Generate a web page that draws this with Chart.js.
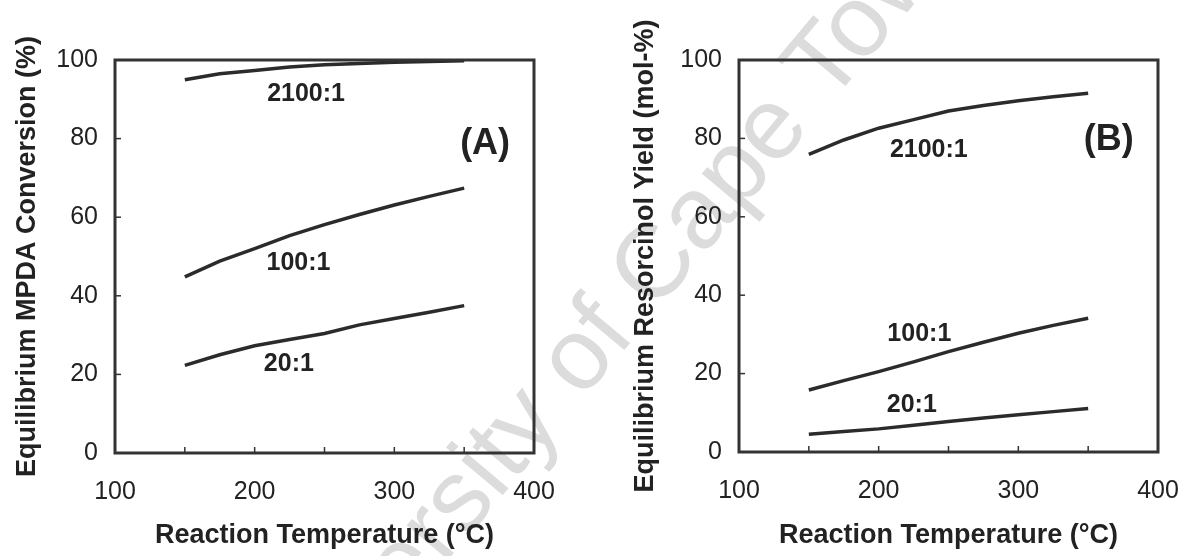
<!DOCTYPE html>
<html><head><meta charset="utf-8">
<script src="https://cdn.jsdelivr.net/npm/chart.js@4.4.1/dist/chart.umd.min.js"></script>
<style>
html,body{margin:0;padding:0;background:#fff;}
#wrap{position:relative;width:1183px;height:556px;overflow:hidden;}
#wm{position:absolute;left:602px;top:322px;transform:translate(-50%,-50%) rotate(-50deg);font:102px "Liberation Sans",Arial,sans-serif;color:#dcdcdc;white-space:nowrap;line-height:1;z-index:0;}
.pane{position:absolute;top:0;height:556px;z-index:1;}
#pa{left:0;width:590px;} #pb{left:590px;width:593px;}
</style></head>
<body><div id="wrap"><div id="wm">University of Cape Town</div>
<div class="pane" id="pa"><canvas id="ca" width="590" height="556"></canvas></div>
<div class="pane" id="pb"><canvas id="cb" width="593" height="556"></canvas></div></div>
<script>
// ---- data ----
const temperatures = [150, 175, 200, 225, 250, 275, 300, 325, 350];
// Panel A: Equilibrium MPDA conversion (%)
const convA_20  = [22.3, 25.0, 27.3, 28.9, 30.4, 32.6, 34.2, 35.8, 37.5];
const convA_100 = [44.8, 48.8, 52.0, 55.3, 58.1, 60.7, 63.1, 65.3, 67.4];
const convA_2100 = [95.0, 96.5, 97.3, 98.2, 98.8, 99.1, 99.4, 99.6, 99.8];
// Panel B: Equilibrium resorcinol yield (mol-%)
const yieldB_20  = [4.5, 5.2, 5.9, 6.8, 7.8, 8.7, 9.5, 10.3, 11.1];
const yieldB_100 = [15.8, 18.2, 20.5, 23.0, 25.6, 28.0, 30.3, 32.3, 34.1];
const yieldB_2100 = [75.9, 79.6, 82.6, 84.8, 87.0, 88.4, 89.6, 90.6, 91.5];
const xMinorTicks = [150, 200, 250, 300, 350];
const yMinorTicks = [20, 40, 60, 80];

// ---- annotations (data coordinates) ----
const notesA = [
  {text: '2100:1', x: 236.8, y: 91.2, size: 25},
  {text: '(A)',    x: 365,   y: 78.5, size: 36},
  {text: '100:1',  x: 231.4, y: 48.3, size: 25},
  {text: '20:1',   x: 224.5, y: 22.6, size: 25}
];
const notesB = [
  {text: '2100:1', x: 235.9, y: 77.0, size: 25},
  {text: '(B)',    x: 364.7, y: 79.5, size: 36},
  {text: '100:1',  x: 229.1, y: 30.1, size: 25},
  {text: '20:1',   x: 223.7, y: 12.0, size: 25}
];

const FONT = '"Liberation Sans", Arial, sans-serif';
const INK = '#222';
const LINE = '#2b2b2b';

function toXY(vals){ return temperatures.map((t,i)=>({x:t, y:vals[i]})); }

function framePlugin(notes){
  return {
    id: 'frame',
    afterDatasetsDraw(chart){
      const {ctx, chartArea:a, scales:{x, y}} = chart;
      ctx.save();
      ctx.strokeStyle = '#333';
      ctx.lineWidth = 1.5;
      xMinorTicks.forEach(v => {
        const px = x.getPixelForValue(v);
        ctx.beginPath(); ctx.moveTo(px, a.bottom); ctx.lineTo(px, a.bottom - 6); ctx.stroke();
      });
      yMinorTicks.forEach(v => {
        const py = y.getPixelForValue(v);
        ctx.beginPath(); ctx.moveTo(a.left, py); ctx.lineTo(a.left + 6, py); ctx.stroke();
      });
      ctx.lineWidth = 3;
      ctx.strokeRect(a.left, a.top, a.right - a.left, a.bottom - a.top);
      ctx.fillStyle = INK;
      ctx.textAlign = 'center';
      ctx.textBaseline = 'middle';
      notes.forEach(n => {
        ctx.font = 'bold ' + n.size + 'px ' + FONT;
        ctx.fillText(n.text, x.getPixelForValue(n.x), y.getPixelForValue(n.y));
      });
      ctx.restore();
    }
  };
}

function makeChart(id, series, yTitle, pad, yWidth, xHeight, yTitlePad, notes){
  return new Chart(document.getElementById(id), {
    type: 'line',
    data: {
      datasets: series.map(s => ({
        label: s.label, data: toXY(s.data),
        borderColor: LINE, borderWidth: 3.5, pointRadius: 0, fill: false, tension: 0
      }))
    },
    options: {
      responsive: false, animation: false,
      layout: {padding: pad},
      plugins: {legend: {display: false}, tooltip: {enabled: false}},
      scales: {
        x: {
          type: 'linear', min: 100, max: 400,
          afterFit: s => { s.height = xHeight; s.paddingLeft = 0; s.paddingRight = 0; },
          ticks: {stepSize: 100, autoSkip: false, maxRotation: 0, padding: 24, color: INK,
                  font: {family: FONT, size: 25}},
          grid: {display: false, drawTicks: false},
          border: {display: false},
          title: {display: true, text: 'Reaction Temperature (°C)', color: INK,
                  font: {family: FONT, size: 27, weight: 'bold'}, padding: {top: 0, bottom: 4}}
        },
        y: {
          type: 'linear', min: 0, max: 100,
          afterFit: s => { s.width = yWidth; },
          ticks: {stepSize: 20, padding: 17, color: INK, font: {family: FONT, size: 25}},
          grid: {display: false, drawTicks: false},
          border: {display: false},
          title: {display: true, text: yTitle, color: INK,
                  font: {family: FONT, size: 27, weight: 'bold'}, padding: {top: yTitlePad, bottom: 0}}
        }
      }
    },
    plugins: [framePlugin(notes)]
  });
}

makeChart('ca', [
  {label: '20:1', data: convA_20},
  {label: '100:1', data: convA_100},
  {label: '2100:1', data: convA_2100}
], 'Equilibrium MPDA Conversion (%)', {top: 60, right: 56, left: 0, bottom: 0}, 115, 103, 11, notesA);

makeChart('cb', [
  {label: '20:1', data: yieldB_20},
  {label: '100:1', data: yieldB_100},
  {label: '2100:1', data: yieldB_2100}
], 'Equilibrium Resorcinol Yield (mol-%)', {top: 60, right: 25, left: 0, bottom: 0}, 149, 104, 39, notesB);
</script>
</body></html>
